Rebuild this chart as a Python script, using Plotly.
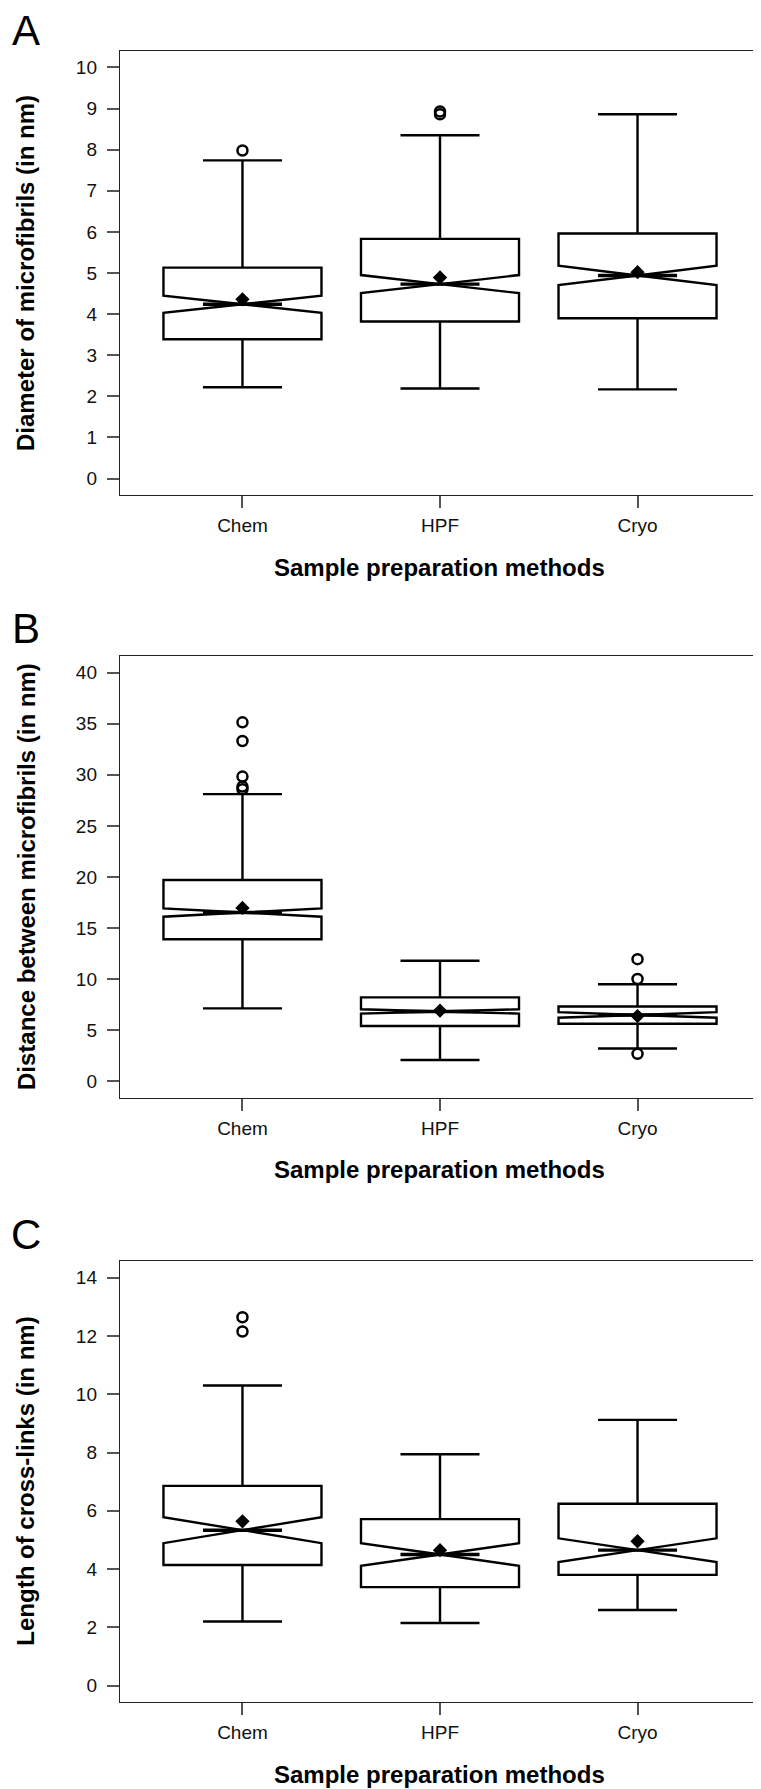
import plotly.graph_objects as go

categories = ["Chem", "HPF", "Cryo"]
positions = [1, 2, 3]

# Panel A: Diameter of microfibrils (nm)
a_q1 = [3.39, 3.82, 3.90]
a_median = [4.24, 4.73, 4.94]
a_q3 = [5.13, 5.83, 5.96]
a_lower = [2.22, 2.19, 2.17]
a_upper = [7.74, 8.35, 8.86]
a_notch = [0.21, 0.22, 0.235]
a_mean = [4.36, 4.89, 5.02]
a_out_pos = [1, 2, 2]
a_out_val = [7.98, 8.93, 8.86]

# Panel B: Distance between microfibrils (nm)
b_q1 = [13.91, 5.42, 5.64]
b_median = [16.52, 6.84, 6.50]
b_q3 = [19.70, 8.22, 7.33]
b_lower = [7.14, 2.09, 3.21]
b_upper = [28.11, 11.81, 9.50]
b_notch = [0.41, 0.21, 0.27]
b_mean = [16.97, 6.92, 6.39]
b_out_pos = [1, 1, 1, 1, 1, 3, 3, 3]
b_out_val = [35.14, 33.31, 29.83, 28.85, 28.6, 11.96, 10.02, 2.69]

# Panel C: Length of cross-links (nm)
c_q1 = [4.14, 3.38, 3.80]
c_median = [5.335, 4.50, 4.65]
c_q3 = [6.855, 5.715, 6.24]
c_lower = [2.20, 2.15, 2.595]
c_upper = [10.30, 7.94, 9.12]
c_notch = [0.445, 0.385, 0.405]
c_mean = [5.64, 4.65, 4.955]
c_out_pos = [1, 1]
c_out_val = [12.64, 12.15]

y_titles = ["Diameter of microfibrils (in nm)",
            "Distance between microfibrils (in nm)",
            "Length of cross-links (in nm)"]
panel_letters = ["A", "B", "C"]
x_title = "Sample preparation methods"

FONT = "Liberation Sans, Arial, Helvetica, sans-serif"
W, H = 761, 1789

panels = [
    dict(q1=a_q1, med=a_median, q3=a_q3, lo=a_lower, hi=a_upper, notch=a_notch,
         mean=a_mean, op=a_out_pos, ov=a_out_val, yr=[-0.4, 10.4], dt=1,
         top=43, bottom=487),
    dict(q1=b_q1, med=b_median, q3=b_q3, lo=b_lower, hi=b_upper, notch=b_notch,
         mean=b_mean, op=b_out_pos, ov=b_out_val, yr=[-1.6, 41.6], dt=5,
         top=648.3, bottom=1089.7),
    dict(q1=c_q1, med=c_median, q3=c_q3, lo=c_lower, hi=c_upper, notch=c_notch,
         mean=c_mean, op=c_out_pos, ov=c_out_val, yr=[-0.56, 14.56], dt=2,
         top=1253.3, bottom=1694),
]

fig = go.Figure()
x_left, x_right = 112, 752
annotations = []
box_w = 0.8
notch_frac = 0.5

for i, p in enumerate(panels):
    n = i + 1
    xa = "x" if n == 1 else f"x{n}"
    ya = "y" if n == 1 else f"y{n}"
    fig.add_trace(go.Box(
        x=positions, q1=p["q1"], median=p["med"], q3=p["q3"],
        lowerfence=p["lo"], upperfence=p["hi"], notchspan=p["notch"],
        notched=True, notchwidth=notch_frac, whiskerwidth=0.5, width=box_w,
        fillcolor="white", line=dict(color="black", width=2.4),
        boxpoints=False, showlegend=False, xaxis=xa, yaxis=ya,
        hoverinfo="skip"))
    # thicker median lines
    mx, my = [], []
    for pos, m in zip(positions, p["med"]):
        half = box_w / 2 * notch_frac
        mx += [pos - half, pos + half, None]
        my += [m, m, None]
    fig.add_trace(go.Scatter(x=mx, y=my, mode="lines",
                             line=dict(color="black", width=3.4),
                             showlegend=False, xaxis=xa, yaxis=ya, hoverinfo="skip"))
    # means
    fig.add_trace(go.Scatter(x=positions, y=p["mean"], mode="markers",
                             marker=dict(symbol="diamond", size=11, color="black"),
                             showlegend=False, xaxis=xa, yaxis=ya))
    # outliers
    fig.add_trace(go.Scatter(x=p["op"], y=p["ov"], mode="markers",
                             marker=dict(symbol="circle-open", size=10,
                                         color="black", line=dict(width=2.5, color="black")),
                             showlegend=False, xaxis=xa, yaxis=ya))

    dom_y = [1 - p["bottom"] / H, 1 - p["top"] / H]
    axis_common = dict(showline=True, mirror=True, linecolor="#222", linewidth=1.4,
                       ticks="outside", ticklen=12, tickwidth=1.8, tickcolor="#555",
                       showgrid=False, zeroline=False,
                       tickfont=dict(family=FONT, size=19, color="#111"),
                       automargin=False)
    fig.update_layout(**{
        ("xaxis" if n == 1 else f"xaxis{n}"): dict(
            axis_common, domain=[x_left / W, x_right / W], range=[0.38, 3.62],
            tickmode="array", tickvals=positions, ticktext=categories,
            anchor=ya, ticklabelstandoff=1),
        ("yaxis" if n == 1 else f"yaxis{n}"): dict(
            axis_common, domain=dom_y, range=p["yr"], tick0=0, dtick=p["dt"],
            anchor=xa, ticklabelstandoff=6),
    })
    ymid = 1 - (p["top"] + p["bottom"]) / 2 / H
    annotations.append(dict(text=y_titles[i], x=18 / W, y=ymid, xref="paper", yref="paper",
                            textangle=-90, showarrow=False, xanchor="center", yanchor="middle",
                            font=dict(family=FONT, size=24, color="black", weight="bold")))
    annotations.append(dict(text=x_title, x=431 / W, y=1 - (p["bottom"] + 72) / H,
                            xref="paper", yref="paper", showarrow=False,
                            xanchor="center", yanchor="middle",
                            font=dict(family=FONT, size=24, color="black", weight="bold")))

letter_y = [22, 620, 1226]
for L, ly in zip(panel_letters, letter_y):
    annotations.append(dict(text=L, x=18 / W, y=1 - ly / H, xref="paper", yref="paper",
                            showarrow=False, xanchor="center", yanchor="middle",
                            height=44, valign="middle",
                            font=dict(family=FONT, size=42, color="black")))

fig.update_layout(width=W, height=H, margin=dict(l=0, r=0, t=0, b=0),
                  paper_bgcolor="white", plot_bgcolor="white",
                  annotations=annotations, showlegend=False)

fig.write_html("out.html")
